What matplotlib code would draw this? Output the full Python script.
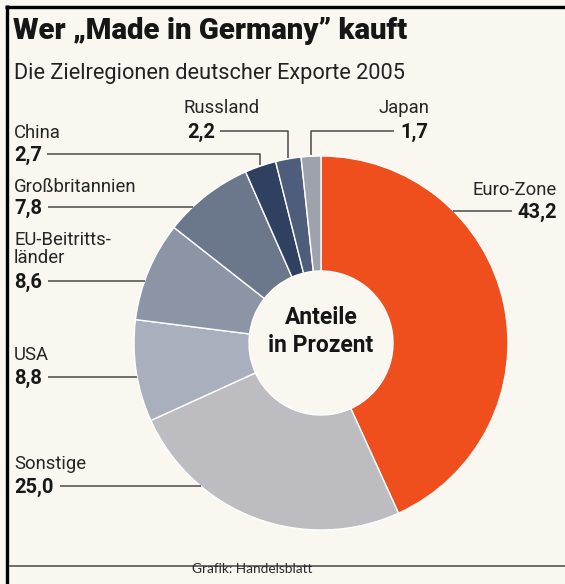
import numpy as np
import matplotlib.pyplot as plt

# Zielregionen deutscher Exporte 2005 (Anteile in Prozent)
regions = ['Euro-Zone', 'Sonstige', 'USA', 'EU-Beitritts-\nländer',
           'Großbritannien', 'China', 'Russland', 'Japan']
shares = [43.2, 25.0, 8.8, 8.6, 7.8, 2.7, 2.2, 1.7]
share_labels = ['43,2', '25,0', '8,8', '8,6', '7,8', '2,7', '2,2', '1,7']
colors = ['#EF4E1D', '#BDBDC1', '#A9AFBC', '#8C95A5',
          '#6B778B', '#2F4061', '#4D5D7B', '#9DA2AD']

W, H = 565, 584
plt.rcParams['font.family'] = ['Roboto', 'DejaVu Sans']

fig = plt.figure(figsize=(W / 100, H / 100), dpi=100)
fig.patch.set_facecolor('#FAF7F1')
ax = fig.add_axes([0, 0, 1, 1])

# donut, pixel coordinates with y going up
cx, cy, R, r_in = 321, H - 343, 187, 72
wedges, _ = ax.pie(shares, colors=colors, startangle=90, counterclock=False,
                   radius=R, center=(cx, cy),
                   wedgeprops=dict(width=R - r_in, edgecolor='white', linewidth=1.0))
ax.set_xlim(0, W)
ax.set_ylim(0, H)
ax.set_aspect('auto')
ax.axis('off')

# frame
ax.plot([5, W], [H - 7, H - 7], color='black', lw=2.4, clip_on=False, solid_capstyle='butt')
ax.plot([7, 7], [H - 5, 0], color='black', lw=2.4, clip_on=False, solid_capstyle='butt')
ax.plot([10, W], [H - 566, H - 566], color='#555555', lw=1.2, clip_on=False)

ax.text(13, H - 31, 'Wer \u201eMade in Germany\u201d kauft', fontsize=21.2, fontweight='black',
        color='#161616', va='center', ha='left')
ax.text(14, H - 74, 'Die Zielregionen deutscher Exporte 2005', fontsize=15.7,
        color='#222222', va='center', ha='left')

ax.text(cx, H - 318, 'Anteile', fontsize=16.5, fontweight='bold', ha='center', va='center', color='#151515')
ax.text(cx, H - 345, 'in Prozent', fontsize=16.5, fontweight='bold', ha='center', va='center', color='#151515')

ax.text(252, H - 569, 'Grafik: Handelsblatt', fontsize=9.8,
        family=['Lato', 'DejaVu Sans'], ha='center', va='center', color='#2a2a2a')

# label layout: name position, value position, leader kind
layout = {
    'Euro-Zone': dict(name=(557, 190), value=(557, 212), ha='right', kind='right'),
    'Sonstige': dict(name=(14, 464), value=(14, 487), ha='left', kind='left'),
    'USA': dict(name=(14, 355), value=(14, 378), ha='left', kind='left'),
    'EU-Beitritts-\nländer': dict(name=(14, 249), value=(14, 282), ha='left', kind='left'),
    'Großbritannien': dict(name=(14, 187), value=(14, 208), ha='left', kind='left'),
    'China': dict(name=(14, 133), value=(14, 155), ha='left', kind='elbow'),
    'Russland': dict(name=(222, 108), value=(187, 132), ha='left', kind='elbow', name_ha='center'),
    'Japan': dict(name=(404, 108), value=(400, 132), ha='left', kind='elbow', name_ha='center'),
}

fig.canvas.draw()
renderer = fig.canvas.get_renderer()
inv = ax.transData.inverted()
line_kw = dict(color='#4A4A4A', lw=1.1, solid_capstyle='butt')

for i, reg in enumerate(regions):
    lay = layout[reg]
    nx, ny = lay['name']
    ax.text(nx, H - ny, reg, fontsize=13.3, color='#262626', va='center',
            ha=lay.get('name_ha', lay['ha']), linespacing=1.05)
    vx, vy = lay['value']
    t = ax.text(vx, H - vy, share_labels[i], fontsize=14.5, fontweight='bold',
                color='#181818', va='center', ha=lay['ha'])
    bb = t.get_window_extent(renderer)
    (x0, _), (x1, _) = inv.transform([[bb.x0, bb.y0], [bb.x1, bb.y1]])
    ly = H - vy + 1
    dy = ly - cy
    if lay['kind'] == 'left':
        xe = cx - np.sqrt(R ** 2 - dy ** 2)
        ax.plot([x1 + 6, xe], [ly, ly], **line_kw)
    elif lay['kind'] == 'right':
        xe = cx + np.sqrt(R ** 2 - dy ** 2)
        ax.plot([xe, x0 - 6], [ly, ly], **line_kw)
    else:
        w = wedges[i]
        a = np.deg2rad((w.theta1 + w.theta2) / 2)
        px, py = cx + R * np.cos(a), cy + R * np.sin(a)
        start = x1 + 5 if px > x1 else x0 - 6
        ax.plot([start, px, px], [ly, ly, py + 1], **line_kw)

fig.savefig('out.png', dpi=100, facecolor=fig.get_facecolor())
